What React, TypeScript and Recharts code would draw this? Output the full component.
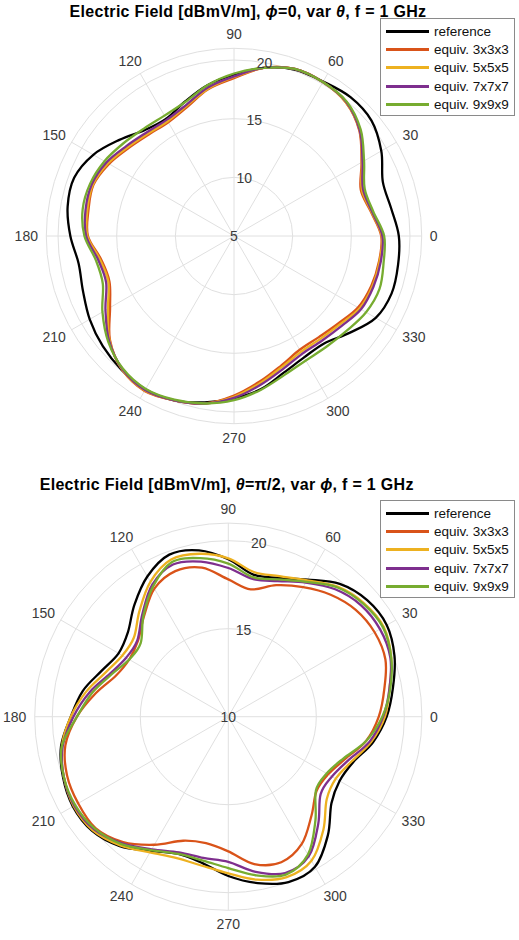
import { Legend, PolarAngleAxis, PolarGrid, PolarRadiusAxis, Radar, RadarChart } from 'recharts'

const angles = [
  0, 10, 20, 30, 40, 50, 60, 70, 80, 90, 100, 110, 120, 130, 140, 150, 160, 170,
  180, 190, 200, 210, 220, 230, 240, 250, 260, 270, 280, 290, 300, 310, 320, 330, 340, 350,
]

// phi = 0, var theta
const thetaReference = [
  19.05, 18.6, 18.5, 19.5, 20.3, 20.45, 20.2, 20.1, 19.55, 18.75, 18.05, 17.2, 16.55, 16.8, 17.75, 18.85, 19.5, 19.4,
  18.95, 18.45, 18.7, 19.2, 19.6, 19.9, 20.1, 19.9, 19.4, 18.85, 18.25, 17.4, 16.95, 16.95, 17.85, 18.95, 19.3, 19.2,
]
const thetaEquiv3 = [
  17.55, 16.85, 16.5, 17.55, 18.95, 19.85, 20.15, 20.15, 19.55, 18.45, 17.7, 16.7, 16.2, 16.3, 16.7, 17.3, 17.75, 17.6,
  17.45, 16.5, 16.3, 17.2, 18.8, 19.85, 20.25, 19.9, 19.5, 18.6, 17.6, 16.75, 16.2, 16.25, 16.6, 17.2, 17.45, 17.55,
]
const thetaEquiv5 = [
  17.6, 16.9, 16.6, 17.6, 19.0, 19.85, 20.15, 20.15, 19.55, 18.55, 17.75, 16.8, 16.3, 16.4, 16.8, 17.4, 17.8, 17.7,
  17.5, 16.6, 16.4, 17.4, 18.85, 19.85, 20.2, 19.9, 19.5, 18.7, 17.75, 16.9, 16.4, 16.45, 16.75, 17.35, 17.55, 17.6,
]
const thetaEquiv7 = [
  17.65, 16.95, 16.7, 17.65, 19.0, 19.9, 20.15, 20.15, 19.55, 18.6, 17.85, 16.9, 16.45, 16.55, 16.95, 17.55, 17.9, 17.85,
  17.6, 16.75, 16.6, 17.65, 18.9, 19.8, 20.15, 19.9, 19.5, 18.8, 17.9, 17.1, 16.6, 16.65, 16.95, 17.5, 17.65, 17.7,
]
const thetaEquiv9 = [
  17.8, 17.05, 16.85, 17.8, 19.1, 19.95, 20.15, 20.15, 19.55, 18.85, 18.05, 17.15, 16.85, 16.95, 17.3, 17.75, 18.05, 18.1,
  17.75, 16.95, 16.9, 17.95, 19.0, 19.75, 20.05, 19.85, 19.5, 19.0, 18.3, 17.6, 17.25, 17.3, 17.55, 18.0, 18.2, 17.95,
]

// theta = pi/2, var phi
const phiReference = [
  19.0, 19.5, 20.05, 20.4, 20.3, 19.85, 19.0, 18.4, 18.2, 18.95, 19.6, 19.8, 19.2, 18.3, 17.45, 17.2, 17.65, 18.4,
  18.95, 19.65, 20.0, 20.2, 20.1, 19.6, 18.8, 18.3, 18.45, 19.05, 19.6, 20.0, 19.85, 18.8, 17.65, 17.3, 17.55, 18.35,
]
const phiEquiv3 = [
  18.55, 19.0, 19.5, 19.6, 19.45, 19.05, 18.5, 17.95, 17.35, 17.8, 18.6, 18.8, 18.4, 17.45, 16.7, 16.5, 16.8, 17.65,
  18.6, 19.4, 19.75, 19.85, 19.85, 19.3, 18.4, 17.5, 17.3, 17.65, 18.5, 18.8, 18.35, 17.35, 16.55, 16.55, 17.05, 17.95,
]
const phiEquiv5 = [
  18.9, 19.3, 19.85, 20.2, 20.05, 19.65, 18.95, 18.5, 18.35, 19.0, 19.4, 19.5, 18.85, 17.85, 17.0, 16.95, 17.4, 18.2,
  18.95, 19.6, 19.95, 20.15, 20.05, 19.55, 18.9, 18.55, 18.6, 18.9, 19.4, 19.7, 19.45, 18.4, 17.3, 17.05, 17.45, 18.25,
]
const phiEquiv7 = [
  18.8, 19.3, 19.8, 19.95, 19.85, 19.45, 18.8, 18.2, 17.95, 18.45, 18.95, 19.2, 18.65, 17.6, 16.75, 16.7, 17.15, 18.0,
  18.8, 19.55, 19.95, 20.1, 19.95, 19.4, 18.7, 18.2, 18.15, 18.25, 18.95, 19.45, 19.15, 17.95, 16.85, 16.8, 17.25, 18.15,
]
const phiEquiv9 = [
  18.75, 19.35, 19.85, 20.15, 20.0, 19.6, 18.85, 18.3, 18.05, 18.7, 19.15, 19.35, 18.55, 17.5, 16.5, 16.5, 17.05, 17.85,
  18.6, 19.6, 19.95, 20.05, 19.9, 19.45, 18.75, 18.3, 18.3, 18.6, 19.15, 19.55, 19.05, 17.7, 16.5, 16.45, 16.95, 17.95,
]

const seriesNames = ['reference', 'equiv. 3x3x3', 'equiv. 5x5x5', 'equiv. 7x7x7', 'equiv. 9x9x9']
const seriesColors = ['#000000', '#D95319', '#EDB120', '#7E2F8E', '#77AC30']
const spokeAngles = [0, 30, 60, 90, 120, 150, 180, 210, 240, 270, 300, 330]
const thetaRadiusTicks = [5, 10, 15, 20, 21]
const phiRadiusTicks = [10, 15, 20, 21]

const FONT = '"Liberation Sans", Arial, Helvetica, sans-serif'
const GRID = '#e0e0e0'
const LABEL = '#3a3a3a'

function buildRows(series: number[][]) {
  return angles.map((angle, i) => {
    const row: Record<string, number> = { angle }
    series.forEach((values, k) => {
      row[`s${k}`] = values[i]
    })
    return row
  })
}

const thetaRows = buildRows([thetaReference, thetaEquiv3, thetaEquiv5, thetaEquiv7, thetaEquiv9])
const phiRows = buildRows([phiReference, phiEquiv3, phiEquiv5, phiEquiv7, phiEquiv9])

type Pt = { x: number; y: number }

// closed Catmull-Rom curve through the points recharts computed
function smoothClosed(points: Pt[]) {
  const n = points.length
  if (!n) return ''
  let d = `M${points[0].x},${points[0].y}`
  for (let i = 0; i < n; i++) {
    const p0 = points[(i - 1 + n) % n]
    const p1 = points[i]
    const p2 = points[(i + 1) % n]
    const p3 = points[(i + 2) % n]
    const c1x = p1.x + (p2.x - p0.x) / 6
    const c1y = p1.y + (p2.y - p0.y) / 6
    const c2x = p2.x - (p3.x - p1.x) / 6
    const c2y = p2.y - (p3.y - p1.y) / 6
    d += `C${c1x},${c1y} ${c2x},${c2y} ${p2.x},${p2.y}`
  }
  return d + 'Z'
}

function CurveShape(props: any) {
  return <path d={smoothClosed(props.points || [])} fill="none" stroke={props.stroke} strokeWidth={2.3} />
}

function AngleTick(props: any) {
  const { x, y, payload } = props
  if (payload.value % 30 !== 0 || payload.value >= 360) return <g />
  const a = (payload.coordinate * Math.PI) / 180
  const label = String(payload.value)
  const halfW = label.length * 4
  return (
    <text
      x={x + Math.cos(a) * halfW}
      y={y - Math.sin(a) * 6}
      textAnchor="middle"
      dominantBaseline="central"
      fill={LABEL}
      fontSize={14}
      fontFamily={FONT}
    >
      {label}
    </text>
  )
}

function RadiusTick(props: any) {
  const { x, y, payload } = props
  if (payload.value === 21) return <g />
  return (
    <text x={x} y={y} textAnchor="middle" dominantBaseline="central" fill={LABEL} fontSize={14} fontFamily={FONT}>
      {payload.value}
    </text>
  )
}

function LegendBox(props: any) {
  const items = props.payload || []
  return (
    <div
      style={{
        width: 135,
        boxSizing: 'border-box',
        border: '1px solid #8a8a8a',
        background: '#fff',
        padding: '3px 0 2px 5px',
        fontFamily: FONT,
        fontSize: 13.5,
        color: '#111',
      }}
    >
      {items.map((item: any) => (
        <div key={item.value} style={{ display: 'flex', alignItems: 'center', height: 18.3 }}>
          <span style={{ display: 'inline-block', width: 43, height: 3, background: item.color, marginRight: 5 }} />
          <span>{item.value}</span>
        </div>
      ))}
    </div>
  )
}

type PolarPanelProps = {
  rows: Record<string, number>[]
  domain: [number, number]
  radiusTicks: number[]
  cx: number
  cy: number
  outerRadius: number
  legendTop: number
}

function PolarPanel({ rows, domain, radiusTicks, cx, cy, outerRadius, legendTop }: PolarPanelProps) {
  return (
    <RadarChart
      width={519}
      height={470}
      data={rows}
      cx={cx}
      cy={cy}
      outerRadius={outerRadius}
      startAngle={0}
      endAngle={360}
      margin={{ top: 0, right: 0, bottom: 0, left: 0 }}
    >
      <PolarGrid polarAngles={spokeAngles} gridType="circle" stroke={GRID} strokeWidth={1} />
      <PolarAngleAxis
        type="number"
        dataKey="angle"
        domain={[0, 360]}
        ticks={spokeAngles}
        tickCount={13}
        tick={AngleTick}
        tickLine={false}
        axisLine={false}
        tickSize={8}
      />
      <PolarRadiusAxis
        type="number"
        domain={domain}
        ticks={radiusTicks}
        angle={80}
        axisLine={false}
        tickLine={false}
        tick={RadiusTick}
        allowDataOverflow
      />
      {seriesNames.map((name, k) => (
        <Radar
          key={name}
          name={name}
          dataKey={`s${k}`}
          stroke={seriesColors[k]}
          fill="none"
          dot={false}
          shape={CurveShape}
          isAnimationActive={false}
        />
      ))}
      <Legend
        layout="vertical"
        align="center"
        verticalAlign="middle"
        content={LegendBox}
        itemSorter={(item: any) => seriesNames.indexOf(item.value)}
        wrapperStyle={{ left: 380, top: legendTop, width: 135 }}
      />
    </RadarChart>
  )
}

const titleStyle: React.CSSProperties = {
  position: 'absolute',
  fontFamily: FONT,
  fontWeight: 700,
  fontSize: 16,
  letterSpacing: 0.3,
  lineHeight: '18px',
  textAlign: 'center',
  color: '#000',
  whiteSpace: 'nowrap',
  zIndex: 2,
}

export default function App() {
  return (
    <div style={{ position: 'absolute', left: 0, top: 0, width: 519, height: 940, background: '#fff' }}>
      <div style={{ position: 'absolute', left: 0, top: 0 }}>
        <PolarPanel
          rows={thetaRows}
          domain={[5, 21]}
          radiusTicks={thetaRadiusTicks}
          cx={234}
          cy={236}
          outerRadius={187.7}
          legendTop={18}
        />
        <div style={{ ...titleStyle, left: 0, top: 3, width: 496 }}>
          Electric Field [dBmV/m], <i>ϕ</i>=0, var <i>θ</i>, f = 1 GHz
        </div>
      </div>
      <div style={{ position: 'absolute', left: 0, top: 470 }}>
        <PolarPanel
          rows={phiRows}
          domain={[10, 21]}
          radiusTicks={phiRadiusTicks}
          cx={228.3}
          cy={246.7}
          outerRadius={193.6}
          legendTop={30}
        />
        <div style={{ ...titleStyle, left: 0, top: 6, width: 453.4 }}>
          Electric Field [dBmV/m], <i>θ</i>=π/2, var <i>ϕ</i>, f = 1 GHz
        </div>
      </div>
    </div>
  )
}
